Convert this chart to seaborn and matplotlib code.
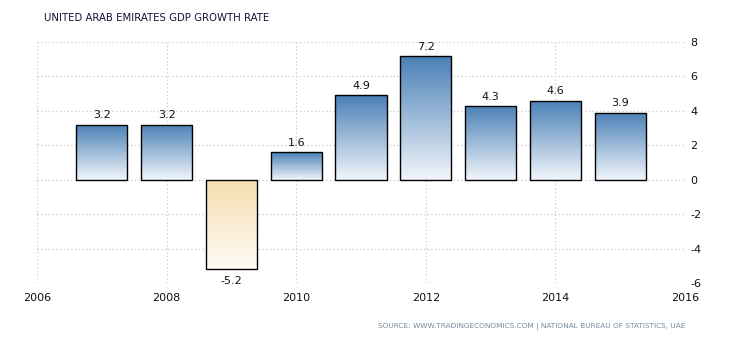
import numpy as np
import pandas as pd
import matplotlib
matplotlib.use("Agg")
import matplotlib.pyplot as plt
import seaborn as sns
from matplotlib.colors import LinearSegmentedColormap

years = [2007, 2008, 2009, 2010, 2011, 2012, 2013, 2014, 2015]
growth = [3.2, 3.2, -5.2, 1.6, 4.9, 7.2, 4.3, 4.6, 3.9]
labels = ["3.2", "3.2", "-5.2", "1.6", "4.9", "7.2", "4.3", "4.6", "3.9"]
xticks = [2006, 2008, 2010, 2012, 2014, 2016]
yticks = [-6, -4, -2, 0, 2, 4, 6, 8]

sns.set_theme(style="white")
plt.rcParams['font.family'] = ['DejaVu Sans']

fig = plt.figure(figsize=(7.3, 3.4), dpi=100)
ax = fig.add_axes([37/730, 1-283/340, (685-37)/730, (283-42)/340])

df = pd.DataFrame({"year": years, "growth": growth})
sns.barplot(data=df, x="year", y="growth", native_scale=True, width=0.79,
            color="white", edgecolor="black", linewidth=1.0, ax=ax, zorder=3)

ax.set_xlim(2006, 2016)
ax.set_ylim(-6, 8)

blue = LinearSegmentedColormap.from_list("b", ["#f2f6fb", "#4a80b6"])
orange = LinearSegmentedColormap.from_list("o", ["#fffcf5", "#f5ddb0"])
grad = np.linspace(0, 1, 256).reshape(-1, 1)
for p, v in zip(ax.patches, growth):
    x0, y0 = p.get_x(), p.get_y()
    w, h = p.get_width(), p.get_height()
    ylo, yhi = min(y0, y0 + h), max(y0, y0 + h)
    cmap = blue if v >= 0 else orange
    img = ax.imshow(grad, cmap=cmap, aspect="auto", origin="lower",
                    extent=[x0, x0 + w, ylo, yhi], zorder=2)
    img.set_clip_path(p)
    p.set_facecolor("none")
    p.set_joinstyle("miter")
    p.set_zorder(4)

ax.set_xlim(2006, 2016)
ax.set_ylim(-6, 8)

for x, v, t in zip(years, growth, labels):
    if v >= 0:
        ax.annotate(t, (x, v), xytext=(0, 3), textcoords="offset points",
                    ha="center", va="bottom", fontsize=8, color="#111111")
    else:
        ax.annotate(t, (x, v), xytext=(0, -5), textcoords="offset points",
                    ha="center", va="top", fontsize=8, color="#111111")

ax.set_xticks(xticks)
ax.set_xticklabels([str(t) for t in xticks], fontsize=8, color="#111111")
ax.set_yticks(yticks)
ax.set_yticklabels([str(t) for t in yticks], fontsize=8, color="#111111")
ax.yaxis.tick_right()
ax.tick_params(axis="x", length=2, color="#cccccc", pad=5)
ax.tick_params(axis="y", length=0, pad=4)
ax.grid(True, linestyle=(0, (1, 2)), color="#c8c8c8", linewidth=0.9, zorder=0)
ax.set_axisbelow(True)
for s in ax.spines.values():
    s.set_visible(False)
ax.set_xlabel("")
ax.set_ylabel("")

fig.text(44/730, 1-18/340, "UNITED ARAB EMIRATES GDP GROWTH RATE", fontsize=7.3,
         color="#111133", va="center", ha="left")
fig.text(685/730, 1-326/340,
         "SOURCE: WWW.TRADINGECONOMICS.COM | NATIONAL BUREAU OF STATISTICS, UAE",
         fontsize=5.3, color="#7a8a99", va="center", ha="right")

fig.savefig("out.png", dpi=100)
